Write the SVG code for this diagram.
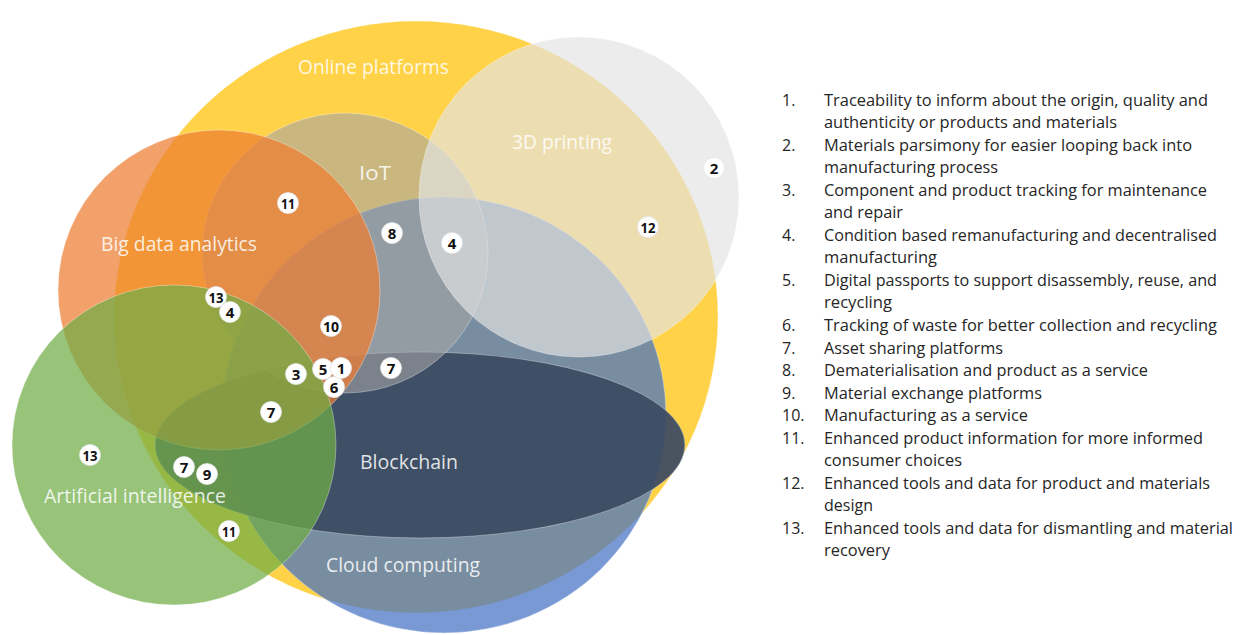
<svg xmlns="http://www.w3.org/2000/svg" width="1242" height="635" viewBox="0 0 1242 635">
<style>
.set{stroke:#ffffff;stroke-opacity:0.35;stroke-width:1}
.lbl{font-family:"Open Sans","Liberation Sans",sans-serif;font-size:20px;fill:#ffffff;fill-opacity:0.85}
.bd circle{fill:#ffffff;stroke:#e6e6e6;stroke-width:0.8}
.bd text{font-family:"Open Sans","Liberation Sans",sans-serif;font-size:15px;font-weight:bold;fill:#111111;text-anchor:middle}
.lg{font-family:"Open Sans","Liberation Sans",sans-serif;font-size:16px;fill:#262626}
</style>
<rect width="1242" height="635" fill="#ffffff"/>
<g id="online-platforms">
<ellipse class="set" cx="416" cy="317" rx="302" ry="296" fill="#FFC000" fill-opacity="0.72"/>
<text class="lbl" x="298" y="74" textLength="151" lengthAdjust="spacingAndGlyphs">Online platforms</text>
</g>
<g id="cloud-computing">
<ellipse class="set" cx="444" cy="415" rx="222" ry="218" fill="#4472C4" fill-opacity="0.72"/>
<text class="lbl" x="326" y="572" textLength="154" lengthAdjust="spacingAndGlyphs">Cloud computing</text>
</g>
<g id="blockchain">
<ellipse class="set" cx="420" cy="445" rx="265" ry="93" fill="#3B4A62" fill-opacity="0.93"/>
<text class="lbl" x="360" y="469" textLength="98" lengthAdjust="spacingAndGlyphs">Blockchain</text>
</g>
<g id="iot">
<ellipse class="set" cx="345" cy="253" rx="143" ry="140" fill="#A5A5A5" fill-opacity="0.6"/>
<text class="lbl" x="359" y="180" textLength="32" lengthAdjust="spacingAndGlyphs">IoT</text>
</g>
<g id="big-data-analytics">
<ellipse class="set" cx="219" cy="290" rx="161" ry="160" fill="#ED7D31" fill-opacity="0.72"/>
<text class="lbl" x="101" y="251" textLength="156" lengthAdjust="spacingAndGlyphs">Big data analytics</text>
</g>
<g id="3d-printing">
<ellipse class="set" cx="579" cy="197" rx="160" ry="160" fill="#E3E3E3" fill-opacity="0.68"/>
<text class="lbl" x="512" y="149" textLength="100" lengthAdjust="spacingAndGlyphs">3D printing</text>
</g>
<g id="artificial-intelligence">
<ellipse class="set" cx="174" cy="445" rx="162" ry="160" fill="#70AD47" fill-opacity="0.72"/>
<text class="lbl" x="44" y="503" textLength="182" lengthAdjust="spacingAndGlyphs">Artificial intelligence</text>
</g>
<g id="badges">
<g class="bd" id="b-11a"><circle cx="288" cy="203" r="10.5"/><text x="288" y="208.5" textLength="14" lengthAdjust="spacingAndGlyphs">11</text></g>
<g class="bd" id="b-8"><circle cx="392" cy="233" r="10.5"/><text x="392" y="238.5">8</text></g>
<g class="bd" id="b-4a"><circle cx="452" cy="243" r="10.5"/><text x="452" y="248.5">4</text></g>
<g class="bd" id="b-13a"><circle cx="216" cy="297" r="10.5"/><text x="216" y="302.5" textLength="15" lengthAdjust="spacingAndGlyphs">13</text></g>
<g class="bd" id="b-4b"><circle cx="230" cy="312" r="10.5"/><text x="230" y="317.5">4</text></g>
<g class="bd" id="b-10"><circle cx="331" cy="326" r="10.5"/><text x="331" y="331.5" textLength="16" lengthAdjust="spacingAndGlyphs">10</text></g>
<g class="bd" id="b-3"><circle cx="296" cy="374" r="10.5"/><text x="296" y="379.5">3</text></g>
<g class="bd" id="b-6"><circle cx="334" cy="387" r="10.5"/><text x="334" y="392.5">6</text></g>
<g class="bd" id="b-5"><circle cx="323" cy="369" r="10.5"/><text x="323" y="374.5">5</text></g>
<g class="bd" id="b-1"><circle cx="341" cy="368" r="10.5"/><text x="341" y="373.5">1</text></g>
<g class="bd" id="b-7a"><circle cx="391" cy="368" r="10.5"/><text x="391" y="373.5">7</text></g>
<g class="bd" id="b-7b"><circle cx="271" cy="412" r="10.5"/><text x="271" y="417.5">7</text></g>
<g class="bd" id="b-13b"><circle cx="90" cy="455" r="10.5"/><text x="90" y="460.5" textLength="15" lengthAdjust="spacingAndGlyphs">13</text></g>
<g class="bd" id="b-7c"><circle cx="184" cy="467" r="10.5"/><text x="184" y="472.5">7</text></g>
<g class="bd" id="b-9"><circle cx="207" cy="474" r="10.5"/><text x="207" y="479.5">9</text></g>
<g class="bd" id="b-11b"><circle cx="229" cy="531" r="10.5"/><text x="229" y="536.5" textLength="14" lengthAdjust="spacingAndGlyphs">11</text></g>
<g class="bd" id="b-2"><circle cx="714" cy="168" r="10.5"/><text x="714" y="173.5">2</text></g>
<g class="bd" id="b-12"><circle cx="648" cy="227" r="10.5"/><text x="648" y="232.5" textLength="15" lengthAdjust="spacingAndGlyphs">12</text></g>
</g>
<g id="legend" class="lg">
<text x="782" y="105.5">1.</text>
<text x="824" y="105.5" textLength="384" lengthAdjust="spacingAndGlyphs">Traceability to inform about the origin, quality and</text>
<text x="824" y="128" textLength="293" lengthAdjust="spacingAndGlyphs">authenticity or products and materials</text>
<text x="782" y="150.5">2.</text>
<text x="824" y="150.5" textLength="368" lengthAdjust="spacingAndGlyphs">Materials parsimony for easier looping back into</text>
<text x="824" y="173" textLength="174" lengthAdjust="spacingAndGlyphs">manufacturing process</text>
<text x="782" y="195.6">3.</text>
<text x="824" y="195.6" textLength="383" lengthAdjust="spacingAndGlyphs">Component and product tracking for maintenance</text>
<text x="824" y="218.2" textLength="79" lengthAdjust="spacingAndGlyphs">and repair</text>
<text x="782" y="240.7">4.</text>
<text x="824" y="240.7" textLength="393" lengthAdjust="spacingAndGlyphs">Condition based remanufacturing and decentralised</text>
<text x="824" y="263.3" textLength="113" lengthAdjust="spacingAndGlyphs">manufacturing</text>
<text x="782" y="285.8">5.</text>
<text x="824" y="285.8" textLength="393" lengthAdjust="spacingAndGlyphs">Digital passports to support disassembly, reuse, and</text>
<text x="824" y="308.4" textLength="68" lengthAdjust="spacingAndGlyphs">recycling</text>
<text x="782" y="330.9">6.</text>
<text x="824" y="330.9" textLength="393" lengthAdjust="spacingAndGlyphs">Tracking of waste for better collection and recycling</text>
<text x="782" y="353.5">7.</text>
<text x="824" y="353.5" textLength="179" lengthAdjust="spacingAndGlyphs">Asset sharing platforms</text>
<text x="782" y="376">8.</text>
<text x="824" y="376" textLength="324" lengthAdjust="spacingAndGlyphs">Dematerialisation and product as a service</text>
<text x="782" y="398.6">9.</text>
<text x="824" y="398.6" textLength="218" lengthAdjust="spacingAndGlyphs">Material exchange platforms</text>
<text x="782" y="421.1">10.</text>
<text x="824" y="421.1" textLength="204" lengthAdjust="spacingAndGlyphs">Manufacturing as a service</text>
<text x="782" y="443.7">11.</text>
<text x="824" y="443.7" textLength="379" lengthAdjust="spacingAndGlyphs">Enhanced product information for more informed</text>
<text x="824" y="466.2" textLength="138" lengthAdjust="spacingAndGlyphs">consumer choices</text>
<text x="782" y="488.8">12.</text>
<text x="824" y="488.8" textLength="386" lengthAdjust="spacingAndGlyphs">Enhanced tools and data for product and materials</text>
<text x="824" y="511.3" textLength="49" lengthAdjust="spacingAndGlyphs">design</text>
<text x="782" y="533.9">13.</text>
<text x="824" y="533.9" textLength="409" lengthAdjust="spacingAndGlyphs">Enhanced tools and data for dismantling and material</text>
<text x="824" y="556.4" textLength="66" lengthAdjust="spacingAndGlyphs">recovery</text>
</g>
</svg>
